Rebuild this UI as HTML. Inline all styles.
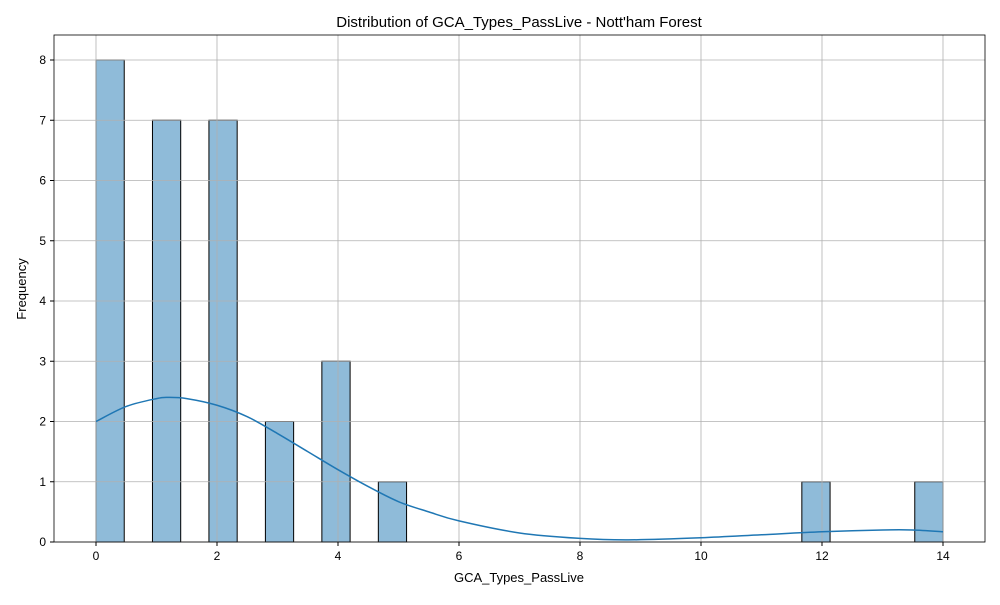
<!DOCTYPE html>
<html><head><meta charset="utf-8"><style>
body{margin:0;background:#fff;font-family:"Liberation Sans",sans-serif;}
</style></head><body>
<svg id="chart" width="1000" height="600" xmlns="http://www.w3.org/2000/svg">
<text x="519" y="27" font-size="15" text-anchor="middle">Distribution of GCA_Types_PassLive - Nott'ham Forest</text>
<g id="bars"></g><g id="grid"></g><g id="kde"></g><g id="axes"></g>
<text x="519" y="582" font-size="13" text-anchor="middle">GCA_Types_PassLive</text>
<text x="26" y="289" font-size="13" text-anchor="middle" transform="rotate(-90 26 289)">Frequency</text>
</svg>
<script>
const binStarts=[0,0.9333,1.8667,2.8,3.7333,4.6667,11.6667,13.5333];
const counts=[8,7,7,2,3,1,1,1];
const binWidth=14/30;
const kdeX=[0,0.5,1,1.2,1.5,2,2.5,3,3.5,4,4.5,5,5.5,6,7,8,8.8,10,11,12,13,13.5,14];
const kdeY=[2.0,2.25,2.38,2.4,2.38,2.27,2.08,1.8,1.5,1.2,0.92,0.67,0.5,0.35,0.15,0.06,0.035,0.07,0.12,0.17,0.2,0.2,0.17];
const xTicks=[0,2,4,6,8,10,12,14];
const yTicks=[0,1,2,3,4,5,6,7,8];
const L=54,R=985,T=35,B=542;
const xs=v=>96+v*60.5, ys=v=>542-v*60.25;
const NS="http://www.w3.org/2000/svg";
function mk(tag,parent,attrs){const e=document.createElementNS(NS,tag);for(const k in attrs)e.setAttribute(k,attrs[k]);parent.appendChild(e);return e;}
const grid=document.getElementById('grid'),bars=document.getElementById('bars'),kde=document.getElementById('kde'),axes=document.getElementById('axes');
xTicks.forEach(t=>{const x=xs(t);
 const g=mk('line',grid,{x1:x,x2:x,y1:T,y2:B,stroke:'#b0b0b0','stroke-width':0.8});
 
 mk('line',axes,{x1:x,x2:x,y1:B,y2:B+4,stroke:'#000'});
 const l=mk('text',axes,{x:x,y:B+18,'font-size':12,'text-anchor':'middle'});l.textContent=t;
 });
yTicks.forEach(t=>{const y=ys(t);
 const g=mk('line',grid,{x1:L,x2:R,y1:y,y2:y,stroke:'#b0b0b0','stroke-width':0.8});
 
 mk('line',axes,{x1:L-4,x2:L,y1:y,y2:y,stroke:'#000'});
 const l=mk('text',axes,{x:L-8,y:y+4,'font-size':12,'text-anchor':'end'});l.textContent=t;
 });
binStarts.forEach((s,i)=>{const x0=xs(s),x1=xs(s+binWidth);
 const r=mk('rect',bars,{x:x0,y:ys(counts[i]),width:x1-x0,height:ys(0)-ys(counts[i]),fill:'rgba(31,119,180,0.5)',stroke:'#000','stroke-width':1});
 });
const pts=kdeX.map((v,i)=>[xs(v),ys(kdeY[i])]);
let d='M'+pts[0][0]+' '+pts[0][1];
for(let i=0;i<pts.length-1;i++){const p0=pts[Math.max(0,i-1)],p1=pts[i],p2=pts[i+1],p3=pts[Math.min(pts.length-1,i+2)];
 d+=' C'+(p1[0]+(p2[0]-p0[0])/6)+' '+(p1[1]+(p2[1]-p0[1])/6)+' '+(p2[0]-(p3[0]-p1[0])/6)+' '+(p2[1]-(p3[1]-p1[1])/6)+' '+p2[0]+' '+p2[1];}
const p=mk('path',kde,{d:d,fill:'none',stroke:'#1f77b4','stroke-width':1.5});

const fr=mk('rect',axes,{x:L,y:T,width:R-L,height:B-T,fill:'none',stroke:'#000','stroke-width':0.8});

</script>
</body></html>
